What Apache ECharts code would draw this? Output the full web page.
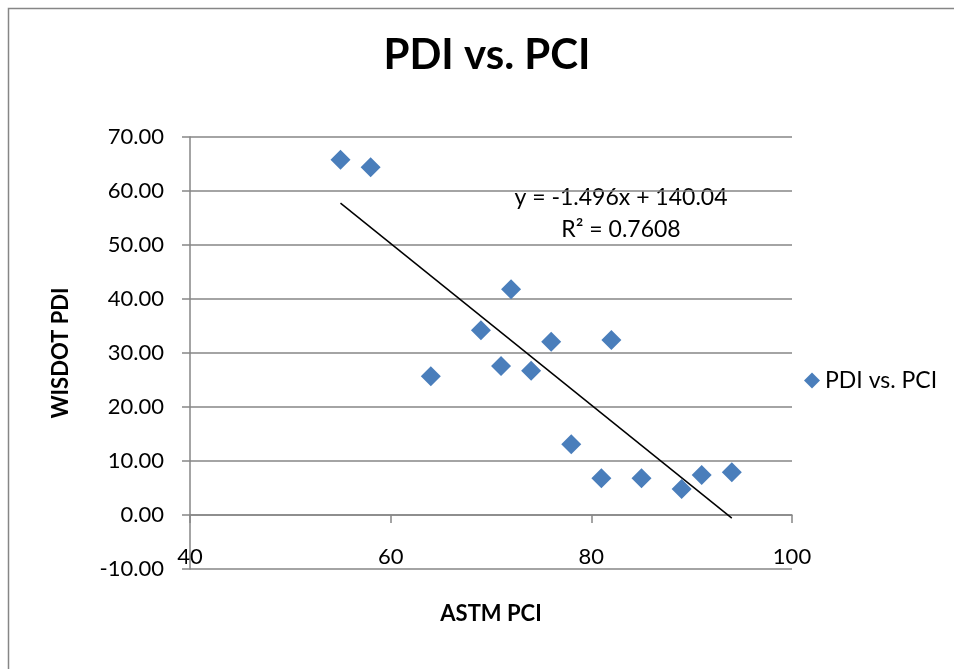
<!DOCTYPE html>
<html>
<head>
<meta charset="utf-8">
<script src="https://cdn.jsdelivr.net/npm/echarts@6/dist/echarts.min.js"></script>
<style>
html,body{margin:0;padding:0;background:#fff;}
#chart{width:954px;height:669px;}
</style>
</head>
<body>
<div id="chart"></div>
<script>
// Data
var astmPCI = [55, 58, 64, 69, 71, 72, 74, 76, 78, 81, 82, 85, 89, 91, 94];
var wisdotPDI = [65.8, 64.4, 25.7, 34.2, 27.6, 41.8, 26.7, 32.1, 13.1, 6.8, 32.4, 6.8, 4.8, 7.4, 7.9];
var trendSlope = -1.496;
var trendIntercept = 140.04;
var trendR2 = 0.7608;
var xTicks = [40, 60, 80, 100];
var yTicks = [-10, 0, 10, 20, 30, 40, 50, 60, 70];

var FONT = 'Lato, "Open Sans", sans-serif';
var points = astmPCI.map(function (x, i) { return [x, wisdotPDI[i]]; });
var xMinData = Math.min.apply(null, astmPCI);
var xMaxData = Math.max.apply(null, astmPCI);
var trendPts = [
  [xMinData, trendSlope * xMinData + trendIntercept],
  [xMaxData, trendSlope * xMaxData + trendIntercept]
];

var chart = echarts.init(document.getElementById('chart'));
chart.setOption({
  animation: false,
  backgroundColor: '#fff',
  title: {
    text: 'PDI vs. PCI',
    left: 487, top: 34, textAlign: 'center', padding: 0,
    textStyle: { fontFamily: FONT, fontSize: 42, fontWeight: 'bold', color: '#000' }
  },
  legend: {
    data: [{ name: 'PDI vs. PCI', icon: 'diamond' }],
    left: 804, top: 369, padding: 0,
    itemWidth: 16, itemHeight: 16, itemGap: 6,
    textStyle: { fontFamily: FONT, fontSize: 23, color: '#000' }
  },
  grid: { left: 190, right: 162, top: 137, bottom: 100, containLabel: false, outerBoundsMode: 'none' },
  xAxis: {
    type: 'value',
    min: xTicks[0], max: xTicks[xTicks.length - 1], interval: 20,
    name: 'ASTM PCI', nameLocation: 'middle', nameGap: 34,
    nameTextStyle: { fontFamily: FONT, fontSize: 22, fontWeight: 'bold', color: '#000', verticalAlign: 'top' },
    axisLine: { onZero: true, lineStyle: { color: '#868686', width: 1.5 } },
    axisTick: { show: true, inside: false, length: 8, lineStyle: { color: '#868686', width: 1.5 } },
    axisLabel: { margin: -23, fontFamily: FONT, fontSize: 22, color: '#000' },
    splitLine: { show: false }
  },
  yAxis: {
    type: 'value',
    min: yTicks[0], max: yTicks[yTicks.length - 1], interval: 10,
    name: 'WISDOT PDI', nameLocation: 'middle', nameGap: 118, nameRotate: 90,
    nameTextStyle: { fontFamily: FONT, fontSize: 22, fontWeight: 'bold', color: '#000' },
    axisLine: { show: true, onZero: false, lineStyle: { color: '#868686', width: 1.5 } },
    axisTick: { show: true, inside: false, length: 8, lineStyle: { color: '#868686', width: 1.5 } },
    axisLabel: {
      margin: 26, fontFamily: FONT, fontSize: 22, color: '#000',
      formatter: function (v) { return v.toFixed(2); }
    },
    splitLine: { show: true, lineStyle: { color: '#868686', width: 1.5 } }
  },
  graphic: [
    {
      type: 'rect', silent: true, z: -1,
      shape: { x: 8.5, y: 8.5, width: 1000, height: 1000 },
      style: { fill: 'none', stroke: '#868686', lineWidth: 1.5 }
    },
    {
      type: 'text', x: 621, y: 198,
      style: {
        text: 'y = -1.496x + 140.04', fontFamily: FONT, fontSize: 23, fill: '#000',
        textAlign: 'center', textVerticalAlign: 'middle'
      }
    },
    {
      type: 'text', x: 621, y: 230,
      style: {
        text: 'R\u00b2 = ' + trendR2, fontFamily: FONT, fontSize: 23, fill: '#000',
        textAlign: 'center', textVerticalAlign: 'middle'
      }
    }
  ],
  series: [
    {
      name: 'PDI vs. PCI',
      type: 'scatter',
      symbol: 'diamond',
      symbolSize: 20,
      itemStyle: { color: '#4A7EBB', opacity: 1 },
      data: points,
      z: 3
    },
    {
      name: 'Linear (PDI vs. PCI)',
      type: 'line',
      data: trendPts,
      symbol: 'none',
      lineStyle: { color: '#000', width: 1.5 },
      z: 2
    }
  ]
});
</script>
</body>
</html>
